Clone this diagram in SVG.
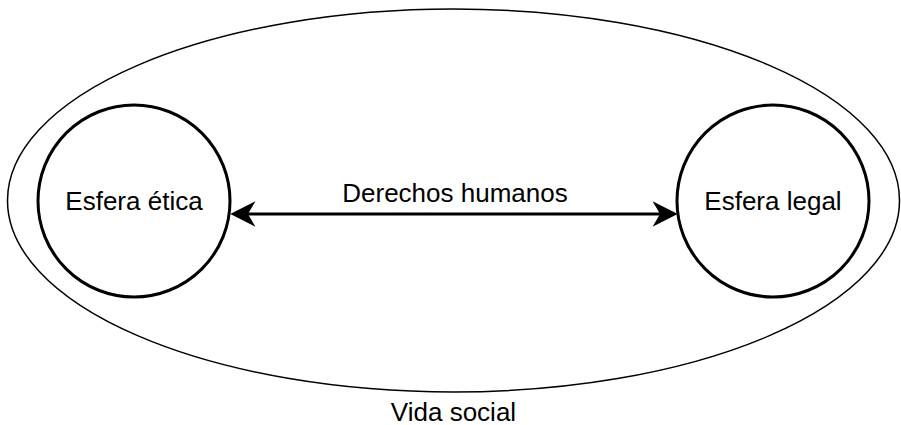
<svg xmlns="http://www.w3.org/2000/svg" width="901" height="425" viewBox="0 0 901 425">
<style>
.lbl{font-family:"Liberation Sans",Arial,sans-serif;font-size:26px;fill:#000;text-anchor:middle}
.circ{fill:#fff;stroke:#000;stroke-width:3}
</style>
<rect width="901" height="425" fill="#fff"/>
<g id="vida-social">
<ellipse cx="453.5" cy="200.5" rx="446" ry="191.5" fill="#fff" stroke="#000" stroke-width="1.5"/>
<text class="lbl" x="453.5" y="421">Vida social</text>
</g>
<g id="esfera-etica">
<circle class="circ" cx="134" cy="201" r="96"/>
<text class="lbl" x="134" y="210">Esfera ética</text>
</g>
<g id="esfera-legal">
<circle class="circ" cx="773" cy="201" r="96"/>
<text class="lbl" x="773" y="210">Esfera legal</text>
</g>
<g id="connectors">
<line x1="246" y1="214" x2="662" y2="214" stroke="#000" stroke-width="3"/>
<path d="M232,214 L253.5,203 L247,214 L253.5,225 Z" fill="#000" stroke="#000" stroke-width="1.5" stroke-linejoin="miter"/>
<path d="M676,214 L654.5,203 L661,214 L654.5,225 Z" fill="#000" stroke="#000" stroke-width="1.5" stroke-linejoin="miter"/>
<text class="lbl" x="455" y="202">Derechos humanos</text>
</g>
</svg>
